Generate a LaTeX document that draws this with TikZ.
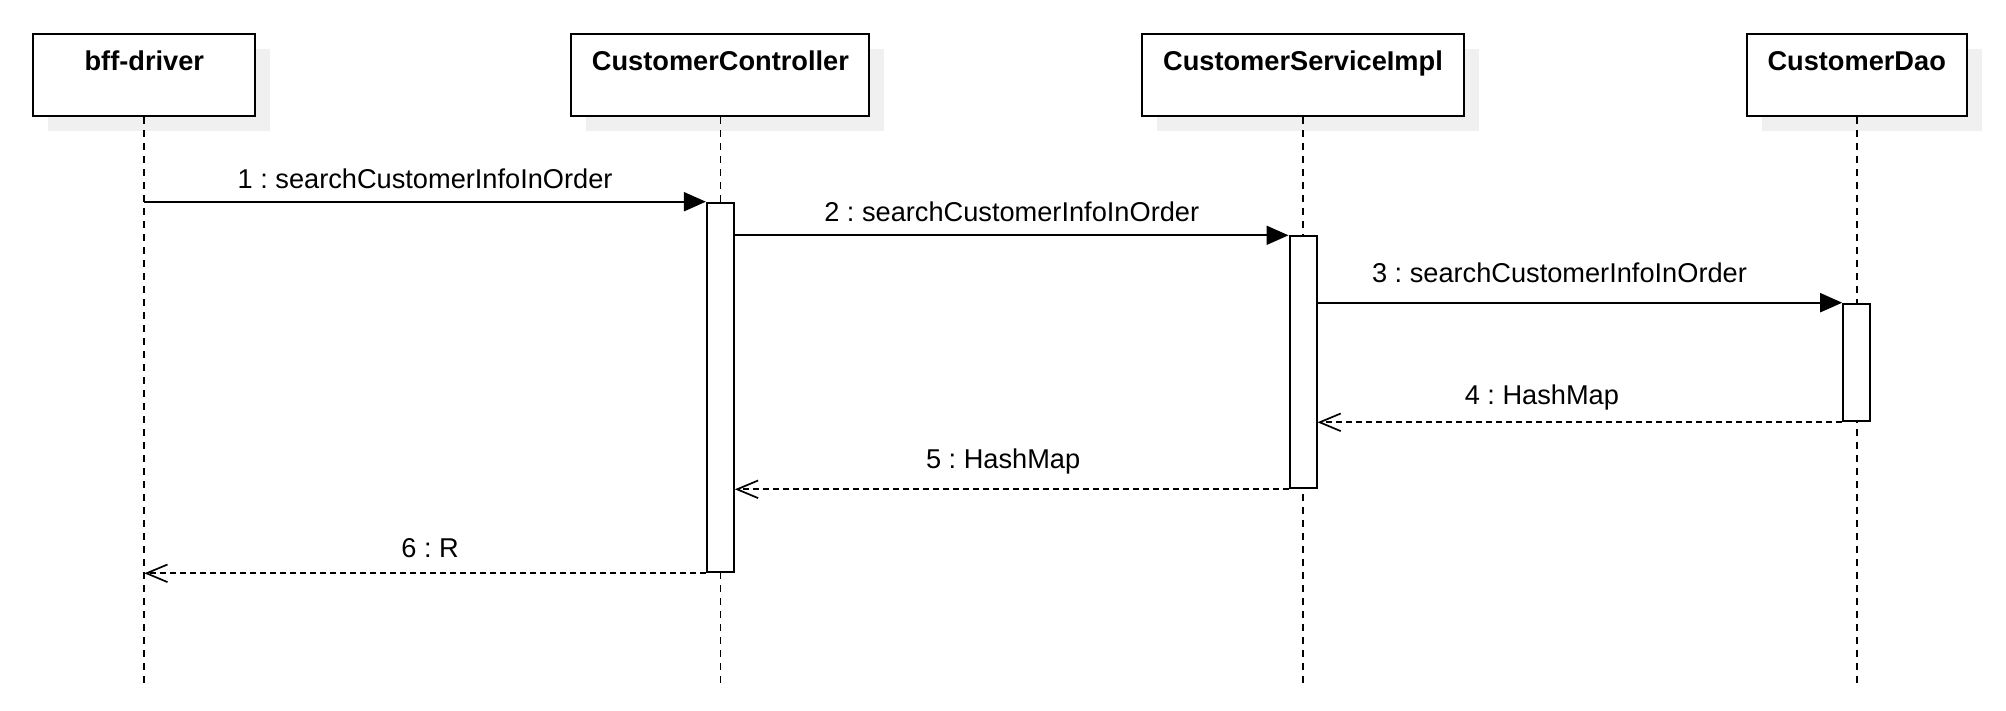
\documentclass[tikz,border=0pt]{standalone}
\usepackage{fontspec}
\setmainfont{Liberation Sans}
\usetikzlibrary{arrows.meta,shadows}
\frenchspacing
\tikzset{
  actor/.style={draw,line width=1pt,fill=white,font=\fontsize{13.6}{16}\selectfont\bfseries,
    inner ysep=0pt,text height=18.2pt,text depth=23.1pt,
    general shadow={fill=black!6,shadow xshift=7.5pt,shadow yshift=-7.5pt}},
  bar/.style={draw,line width=1pt,fill=white,minimum width=13.5pt,inner sep=0pt,anchor=north},
  life/.style={line width=0.85pt,dash pattern=on 3.5pt off 3pt},
  call/.style={line width=1pt,-{Triangle[length=11pt,width=9.5pt]}},
  reply/.style={line width=1pt,dash pattern=on 3pt off 2pt,-{Straight Barb[length=10.5pt,width=8.8pt,line width=0.85pt]}},
  msg/.style={anchor=base,font=\fontsize{13.6}{16}\selectfont}
}
\begin{document}
\begin{tikzpicture}[x=0.5pt,y=-0.5pt]
	\useasboundingbox (0,0) rectangle (2006,711);
	% objects
	\node[actor,minimum width=111pt] (bff) at (144.3,75) {bff-driver};
	\node[actor,minimum width=149pt] (ctrl) at (720.4,75) {CustomerController};
	\node[actor,minimum width=160.6pt] (impl) at (1303,75) {CustomerServiceImpl};
	\node[actor,minimum width=109.8pt] (dao) at (1856.7,75) {CustomerDao};
	\coordinate (bot) at (0,688);
	% lifelines
	\foreach \o in {bff,ctrl,impl,dao}
	\draw[life] (\o.south) -- (\o.south |- bot);
	% activations
	\node[bar,minimum height=184.8pt] (ctrlbar) at (ctrl.south |- 0,201.7) {};
	\node[bar,minimum height=126pt] (implbar) at (impl.south |- 0,235.3) {};
	\node[bar,minimum height=58.8pt] (daobar) at (dao.south |- 0,302.7) {};
	% messages
	\draw[call] (bff.south |- ctrlbar.north) -- node[msg,yshift=6.35pt] {1 : searchCustomerInfoInOrder} (ctrlbar.north west);
	\draw[call] (ctrlbar.east |- implbar.north) -- node[msg,yshift=6.8pt] {2 : searchCustomerInfoInOrder} (implbar.north west);
	\draw[call] (implbar.east |- daobar.north) -- node[msg,xshift=-10.2pt,yshift=10pt] {3 : searchCustomerInfoInOrder} (daobar.north west);
	\draw[reply] (daobar.south west) -- node[msg,xshift=-19pt,yshift=8.8pt] {4 : HashMap} (implbar.east |- daobar.south);
	\draw[reply] (implbar.south west) -- node[msg,xshift=-4.3pt,yshift=10.3pt] {5 : HashMap} (ctrlbar.east |- implbar.south);
	\draw[reply] (ctrlbar.south west) -- node[msg,xshift=2.5pt,yshift=8pt] {6 : R} (bff.south |- ctrlbar.south);
\end{tikzpicture}
\end{document}
